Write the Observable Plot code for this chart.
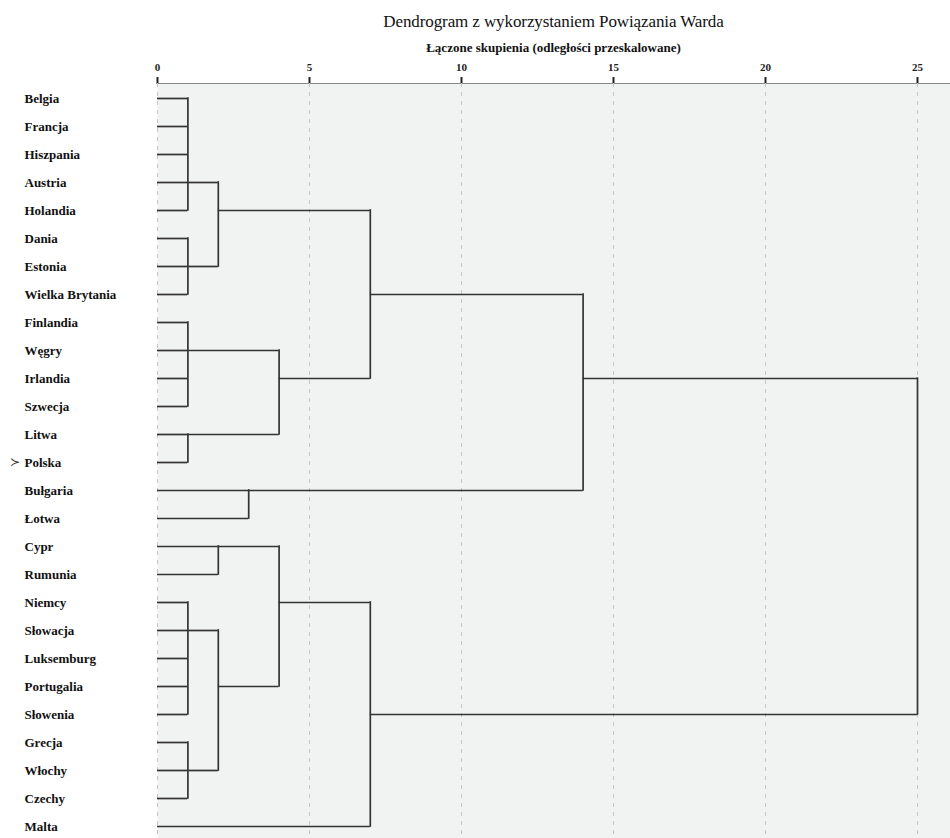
<!DOCTYPE html>
<html>
<head>
<meta charset="utf-8">
<script src="https://cdn.jsdelivr.net/npm/d3@7"></script>
<script src="https://cdn.jsdelivr.net/npm/@observablehq/plot@0.6"></script>
<style>
  body { margin: 0; background: #fff; font-family: "Liberation Serif", serif; }
  #wrap { position: relative; width: 950px; height: 838px; overflow: hidden; }
  #title { position: absolute; left: 157px; width: 793px; top: 12px; text-align: center;
           font-size: 17px; line-height: 20px; color: #111; letter-spacing: -0.1px; }
  #subtitle { position: absolute; left: 157px; width: 793px; top: 40px; text-align: center;
           font-size: 13px; line-height: 15px; font-weight: bold; color: #111; }
  #chart { position: absolute; left: 0; top: 0; }
</style>
</head>
<body>
<div id="wrap">
  <div id="chart"></div>
  <div id="title">Dendrogram z wykorzystaniem Powiązania Warda</div>
  <div id="subtitle">Łączone skupienia (odległości przeskalowane)</div>
</div>
<script>
// Leaves in display order (top to bottom)
const leaves = [
  "Belgia", "Francja", "Hiszpania", "Austria", "Holandia", "Dania", "Estonia",
  "Wielka Brytania", "Finlandia", "Węgry", "Irlandia", "Szwecja", "Litwa", "Polska",
  "Bułgaria", "Łotwa", "Cypr", "Rumunia", "Niemcy", "Słowacja", "Luksemburg",
  "Portugalia", "Słowenia", "Grecja", "Włochy", "Czechy", "Malta"
];

// Merges: children, rescaled merge distance, leaf row where the cluster's line leaves
const clusterIds      = ["c1","c2","c3","c4","c5","c6","c7","c8","c9","c10","c11","c12","c13","c14","c15","c16"];
const clusterChildren = [
  ["Belgia","Francja","Hiszpania","Austria","Holandia"],
  ["Dania","Estonia","Wielka Brytania"],
  ["c1","c2"],
  ["Finlandia","Węgry","Irlandia","Szwecja"],
  ["Litwa","Polska"],
  ["c4","c5"],
  ["c3","c6"],
  ["Bułgaria","Łotwa"],
  ["c7","c8"],
  ["Cypr","Rumunia"],
  ["Niemcy","Słowacja","Luksemburg","Portugalia","Słowenia"],
  ["Grecja","Włochy","Czechy"],
  ["c11","c12"],
  ["c10","c13"],
  ["c14","Malta"],
  ["c9","c15"]
];
const clusterHeights  = [1, 1, 2, 1, 1, 4, 7, 3, 14, 2, 1, 1, 2, 4, 7, 25];
const clusterAnchors  = ["Austria","Estonia","Holandia","Węgry","Litwa","Irlandia","Wielka Brytania",
                         "Bułgaria","Irlandia","Cypr","Słowacja","Włochy","Portugalia","Niemcy","Słowenia","Irlandia"];

const tickValues = [0, 5, 10, 15, 20, 25];
const markedLeaf = "Polska";

// Build the tree segments
const nodes = new Map();
leaves.forEach(n => nodes.set(n, {height: 0, anchor: n}));
clusterIds.forEach((id, i) => nodes.set(id, {height: clusterHeights[i], anchor: clusterAnchors[i], children: clusterChildren[i]}));

const hSegs = [], vSegs = [];
clusterIds.forEach(id => {
  const c = nodes.get(id);
  const idx = c.children.map(ch => {
    const n = nodes.get(ch);
    hSegs.push({x1: n.height, x2: c.height, y: n.anchor});
    return leaves.indexOf(n.anchor);
  });
  vSegs.push({x: c.height, y1: leaves[d3.min(idx)], y2: leaves[d3.max(idx)]});
});

const chart = Plot.plot({
  width: 950,
  height: 838,
  marginTop: 83,
  marginLeft: 157,
  marginRight: 0,
  marginBottom: 0,
  style: { fontFamily: "Liberation Serif", fontSize: "11px", fontWeight: "bold", color: "#222", background: "transparent" },
  x: { domain: [0, 25], range: [157, 917], axis: "top", ticks: tickValues, tickSize: 7, tickPadding: 6, line: true, label: null },
  y: { type: "point", domain: leaves, range: [97, 826], padding: 0, axis: null },
  marks: [
    Plot.frame({ fill: "#f1f2f2", stroke: null }),
    Plot.gridX(tickValues, { stroke: "#c4c4c4", strokeOpacity: 1, strokeDasharray: "4,5", strokeWidth: 1 }),
    Plot.ruleY(hSegs, { x1: "x1", x2: "x2", y: "y", stroke: "#333", strokeWidth: 1.7 }),
    Plot.ruleX(vSegs, { x: "x", y1: "y1", y2: "y2", stroke: "#333", strokeWidth: 1.7, strokeLinecap: "square" }),
    Plot.text(leaves, { y: d => d, text: d => d, frameAnchor: "left", textAnchor: "start", dx: -133,
                        fontSize: 13, fontWeight: "bold", fill: "#111" }),
    Plot.text([markedLeaf], { y: d => d, text: () => "≻", frameAnchor: "left", textAnchor: "start", dx: -148,
                        fontSize: 12, fontWeight: "normal", fill: "#333" })
  ]
});
// heavier axis line and ticks, as in the reference
d3.select(chart).selectAll('[aria-label^="x-axis"] line, [aria-label^="x-axis"] path')
  .attr("stroke-width", 2).attr("stroke", "#222");
document.getElementById("chart").appendChild(chart);
</script>
</body>
</html>
